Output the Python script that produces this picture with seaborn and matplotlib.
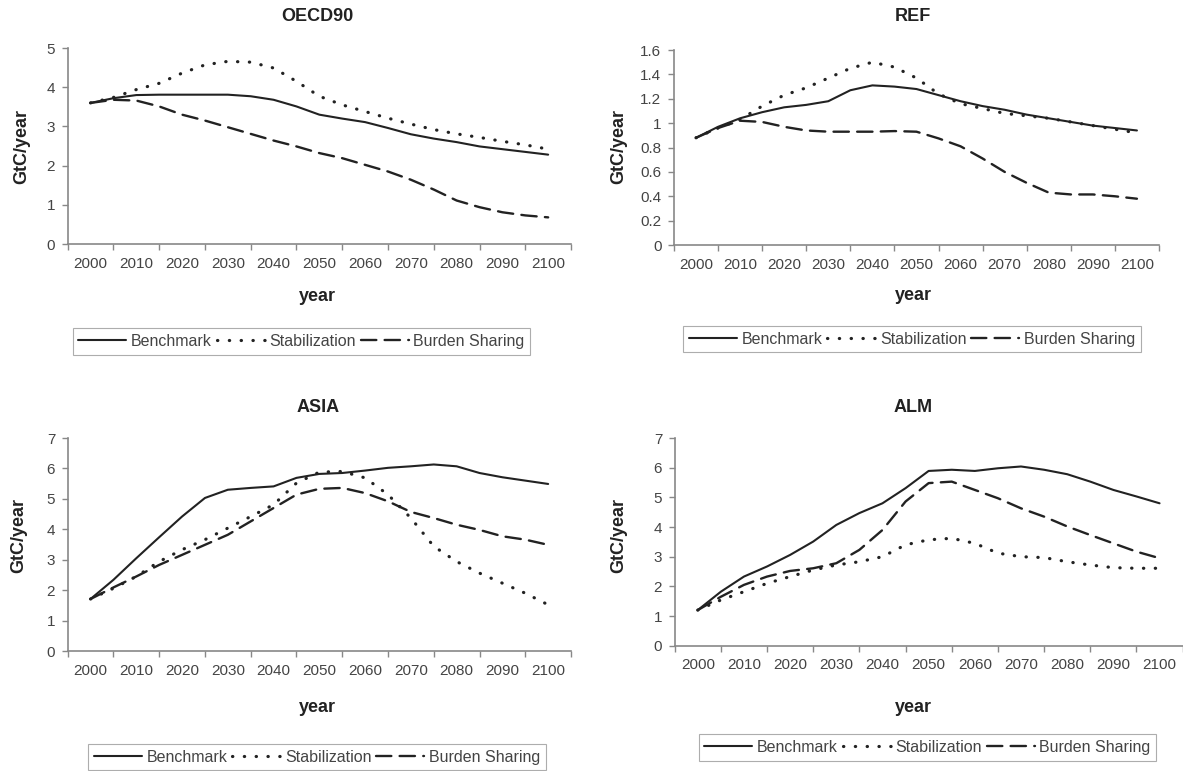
import pandas as pd
import matplotlib.pyplot as plt
import seaborn as sns

years = list(range(2000, 2101, 5))
scenarios = ['Benchmark', 'Stabilization', 'Burden Sharing']

# OECD90
oecd_bench = [3.6, 3.72, 3.8, 3.81, 3.81, 3.81, 3.81, 3.77, 3.68, 3.51, 3.3,
              3.2, 3.11, 2.96, 2.8, 2.69, 2.6, 2.49, 2.42, 2.35, 2.28]
oecd_stab = [3.6, 3.74, 3.94, 4.1, 4.36, 4.57, 4.66, 4.64, 4.49, 4.15, 3.77,
             3.55, 3.38, 3.21, 3.06, 2.92, 2.81, 2.72, 2.62, 2.53, 2.42]
oecd_burden = [3.6, 3.68, 3.66, 3.51, 3.3, 3.15, 2.98, 2.81, 2.64, 2.49, 2.32,
               2.19, 2.02, 1.85, 1.64, 1.39, 1.11, 0.94, 0.81, 0.73, 0.68]

# REF
ref_bench = [0.88, 0.97, 1.04, 1.09, 1.13, 1.15, 1.18, 1.27, 1.31, 1.30, 1.28,
             1.23, 1.18, 1.14, 1.11, 1.07, 1.04, 1.01, 0.98, 0.96, 0.94]
ref_stab = [0.88, 0.96, 1.03, 1.14, 1.23, 1.29, 1.37, 1.45, 1.5, 1.46, 1.37,
            1.24, 1.16, 1.12, 1.08, 1.06, 1.04, 1.01, 0.98, 0.95, 0.92]
ref_burden = [0.88, 0.96, 1.02, 1.01, 0.97, 0.94, 0.93, 0.93, 0.93, 0.935, 0.93,
              0.875, 0.81, 0.71, 0.6, 0.51, 0.43, 0.415, 0.415, 0.4, 0.38]

# ASIA
asia_bench = [1.71, 2.34, 3.05, 3.74, 4.42, 5.03, 5.3, 5.36, 5.41, 5.69, 5.82,
              5.85, 5.93, 6.02, 6.07, 6.13, 6.07, 5.85, 5.71, 5.6, 5.49]
asia_stab = [1.71, 2.06, 2.45, 2.94, 3.33, 3.66, 4.04, 4.42, 4.81, 5.52, 5.88,
             5.9, 5.69, 5.14, 4.37, 3.44, 2.94, 2.56, 2.23, 1.9, 1.52]
asia_burden = [1.71, 2.09, 2.45, 2.83, 3.16, 3.49, 3.82, 4.26, 4.7, 5.14, 5.33,
               5.36, 5.19, 4.92, 4.57, 4.37, 4.15, 3.98, 3.77, 3.66, 3.49]

# ALM
alm_bench = [1.2, 1.82, 2.33, 2.67, 3.06, 3.51, 4.07, 4.47, 4.8, 5.31, 5.89,
             5.93, 5.89, 5.98, 6.04, 5.93, 5.78, 5.53, 5.25, 5.03, 4.8]
alm_stab = [1.2, 1.54, 1.82, 2.1, 2.33, 2.55, 2.72, 2.83, 3.0, 3.4, 3.57,
            3.62, 3.45, 3.12, 3.0, 2.97, 2.83, 2.72, 2.63, 2.61, 2.61]
alm_burden = [1.2, 1.65, 2.05, 2.33, 2.52, 2.61, 2.78, 3.23, 3.9, 4.86, 5.48,
              5.53, 5.25, 4.97, 4.63, 4.35, 4.02, 3.73, 3.45, 3.17, 2.95]

regions = ['OECD90', 'REF', 'ASIA', 'ALM']
series = {
    'OECD90': [oecd_bench, oecd_stab, oecd_burden],
    'REF': [ref_bench, ref_stab, ref_burden],
    'ASIA': [asia_bench, asia_stab, asia_burden],
    'ALM': [alm_bench, alm_stab, alm_burden],
}
y_ticks = {
    'OECD90': [0, 1, 2, 3, 4, 5],
    'REF': [0, 0.2, 0.4, 0.6, 0.8, 1, 1.2, 1.4, 1.6],
    'ASIA': [0, 1, 2, 3, 4, 5, 6, 7],
    'ALM': [0, 1, 2, 3, 4, 5, 6, 7],
}
x_labels = list(range(2000, 2101, 10))

sns.set_style('white')
plt.rcParams['font.family'] = ['Liberation Sans', 'DejaVu Sans']
plt.rcParams['lines.dash_capstyle'] = 'round'

fig = plt.figure(figsize=(11.83, 7.71), dpi=100)

# layout (figure fractions): axes box, title, xlabel, ylabel, legend centre
layout = {
    'OECD90': dict(box=[0.0572, 0.6835, 0.4255, 0.2542], title=(0.268, 0.978),
                   xlab=(0.268, 0.615), ylab=(0.018, 0.81), leg=(0.2549, 0.557)),
    'REF': dict(box=[0.5697, 0.6822, 0.41, 0.2529], title=(0.772, 0.978),
                xlab=(0.772, 0.617), ylab=(0.523, 0.81), leg=(0.771, 0.560)),
    'ASIA': dict(box=[0.0572, 0.1556, 0.4255, 0.2763], title=(0.269, 0.471),
                 xlab=(0.268, 0.082), ylab=(0.016, 0.306), leg=(0.268, 0.018)),
    'ALM': dict(box=[0.5703, 0.1625, 0.4294, 0.2694], title=(0.772, 0.472),
                xlab=(0.772, 0.082), ylab=(0.523, 0.306), leg=(0.784, 0.0305)),
}

dash_map = {'Benchmark': '', 'Stabilization': (0.1, 3.6), 'Burden Sharing': (6.5, 3.5)}
width_map = {'Benchmark': 1.5, 'Stabilization': 2.3, 'Burden Sharing': 1.7}
pal = {s: '#222222' for s in scenarios}

for reg in regions:
    lay = layout[reg]
    ax = fig.add_axes(lay['box'])
    rows = []
    for name, vals in zip(scenarios, series[reg]):
        for yr, v in zip(years, vals):
            rows.append({'year': yr, 'value': v, 'scenario': name})
    df = pd.DataFrame(rows)

    sns.lineplot(data=df, x='year', y='value', hue='scenario', style='scenario',
                 size='scenario', hue_order=scenarios, style_order=scenarios,
                 size_order=scenarios, palette=pal, dashes=dash_map,
                 sizes=width_map, ax=ax)

    ax.set_xlim(1995, 2105)
    ax.set_ylim(0, y_ticks[reg][-1])
    ax.set_yticks(y_ticks[reg])
    ax.set_yticklabels([f'{t:g}' for t in y_ticks[reg]])
    ax.set_xticks(x_labels)
    ax.set_xticklabels([str(x) for x in x_labels])
    ax.set_xticks(list(range(1995, 2106, 10)), minor=True)
    ax.tick_params(axis='x', which='major', length=0, pad=9, labelsize=11,
                   labelcolor='#444444')
    ax.tick_params(axis='x', which='minor', length=4, width=1, color='#888888',
                   direction='out', bottom=True)
    ax.tick_params(axis='y', length=4, width=1, color='#888888', direction='out',
                   left=True, pad=5, labelsize=11, labelcolor='#444444')
    ax.set_xlabel('')
    ax.set_ylabel('')
    sns.despine(ax=ax)
    for side in ['left', 'bottom']:
        ax.spines[side].set_color('#888888')
        ax.spines[side].set_linewidth(1.2)

    fig.text(*lay['title'], reg, ha='center', va='center', fontsize=13,
             fontweight='bold', color='#222222')
    fig.text(*lay['xlab'], 'year', ha='center', va='center', fontsize=13,
             fontweight='bold', color='#222222')
    fig.text(*lay['ylab'], 'GtC/year', ha='center', va='center', rotation=90,
             fontsize=13, fontweight='bold', color='#222222')

    old = ax.get_legend()
    handles = old.legend_handles
    labels = [t.get_text() for t in old.get_texts()]
    old.remove()
    leg = ax.legend(handles, labels, loc='center', bbox_to_anchor=lay['leg'],
                    bbox_transform=fig.transFigure, ncol=3, fontsize=11.5,
                    frameon=True, fancybox=False, handlelength=3.0,
                    handletextpad=0.3, columnspacing=0.3, borderpad=0.35,
                    labelcolor='#444444')
    leg.get_frame().set_edgecolor('#999999')
    leg.get_frame().set_linewidth(0.8)

fig.savefig('out.png', dpi=100)
